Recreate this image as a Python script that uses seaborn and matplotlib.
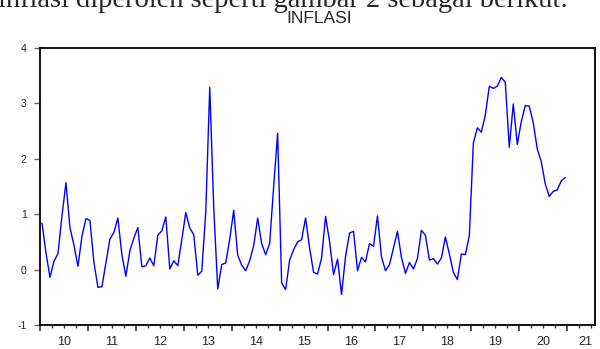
import numpy as np
import pandas as pd
import matplotlib
matplotlib.use("Agg")
import matplotlib.pyplot as plt
import seaborn as sns
from matplotlib.ticker import FixedLocator, MultipleLocator, NullFormatter

# Monthly inflation (%), January to December of each year
infl_2010 = [0.84, 0.30, -0.14, 0.15, 0.29, 0.97, 1.57, 0.76, 0.44, 0.06, 0.60, 0.92]
infl_2011 = [0.89, 0.13, -0.32, -0.31, 0.12, 0.55, 0.67, 0.93, 0.27, -0.12, 0.34, 0.57]
infl_2012 = [0.76, 0.05, 0.07, 0.21, 0.07, 0.62, 0.70, 0.95, 0.01, 0.16, 0.07, 0.54]
infl_2013 = [1.03, 0.75, 0.63, -0.10, -0.03, 1.03, 3.29, 1.12, -0.35, 0.09, 0.12, 0.55]
infl_2014 = [1.07, 0.26, 0.08, -0.02, 0.16, 0.43, 0.93, 0.47, 0.27, 0.47, 1.50, 2.46]
infl_2015 = [-0.24, -0.36, 0.17, 0.36, 0.50, 0.54, 0.93, 0.39, -0.05, -0.08, 0.21, 0.96]
infl_2016 = [0.51, -0.09, 0.19, -0.45, 0.24, 0.66, 0.69, -0.02, 0.22, 0.14, 0.47, 0.42]
infl_2017 = [0.97, 0.23, -0.02, 0.09, 0.39, 0.69, 0.22, -0.07, 0.13, 0.01, 0.20, 0.71]
infl_2018 = [0.62, 0.17, 0.20, 0.10, 0.21, 0.59, 0.28, -0.05, -0.18, 0.28, 0.27, 0.62]
infl_2019 = [2.28, 2.56, 2.48, 2.79, 3.31, 3.27, 3.31, 3.47, 3.38, 2.21, 2.99, 2.26]
infl_2020 = [2.67, 2.96, 2.95, 2.65, 2.18, 1.95, 1.55, 1.32, 1.41, 1.44, 1.60, 1.66]

year_labels = ["10", "11", "12", "13", "14", "15", "16", "17", "18", "19", "20", "21"]
y_ticks = [-1, 0, 1, 2, 3, 4]

sns.set_style("white")
plt.rcParams["font.family"] = ["Liberation Sans", "DejaVu Sans"]

values = np.concatenate([infl_2010, infl_2011, infl_2012, infl_2013, infl_2014,
                         infl_2015, infl_2016, infl_2017, infl_2018, infl_2019,
                         infl_2020])
dates = pd.date_range("2010-01-01", periods=len(values), freq="MS")
t = dates.year + (dates.month - 0.5) / 12.0
df = pd.DataFrame({"t": t, "INFLASI": values})

fig = plt.figure(figsize=(6.0, 3.49), dpi=100)
ax = fig.add_axes([40 / 600, 1 - 325 / 349, 555 / 600, 277 / 349])

sns.lineplot(data=df, x="t", y="INFLASI", color="#0000ff", linewidth=1.0, ax=ax)

ax.set_xlim(2010, 2021.58)
ax.set_ylim(-1, 4)
ax.set_xlabel("")
ax.set_ylabel("")

# y axis
ax.set_yticks(y_ticks)
ax.set_yticklabels([str(v) for v in y_ticks])
ax.tick_params(axis="y", which="major", direction="out", length=4.5, width=1.0,
               color="#666666", labelsize=7.5, pad=5, left=True)

# x axis: long ticks at year boundaries, short ticks at quarters
ax.xaxis.set_major_locator(FixedLocator(list(range(2010, 2022))))
ax.xaxis.set_major_formatter(NullFormatter())
ax.xaxis.set_minor_locator(MultipleLocator(0.25))
ax.tick_params(axis="x", which="major", direction="out", length=4.2, width=1.2,
               color="#333333", bottom=True)
ax.tick_params(axis="x", which="minor", direction="out", length=2.0, width=1.0,
               color="#333333", bottom=True)

# year labels centred within each year
centers = [2010.5 + i for i in range(11)] + [2021.38]
sec = ax.secondary_xaxis("bottom")
sec.set_xticks(centers)
sec.set_xticklabels(year_labels)
sec.tick_params(axis="x", length=0, pad=8, labelsize=9)
sec.spines["bottom"].set_visible(False)

for s in ax.spines.values():
    s.set_visible(True)
    s.set_color("black")
    s.set_linewidth(1.3)

fig.text(319 / 600, 1 - 23 / 349, "INFLASI", ha="center", va="baseline", fontsize=12.5)
fig.text(-0.003, 1 - 7 / 349, "inflasi diperoleh seperti gambar 2 sebagai berikut:",
         family=["Liberation Serif"], fontsize=20.5, ha="left", va="baseline")

fig.savefig("out.png", dpi=100)
